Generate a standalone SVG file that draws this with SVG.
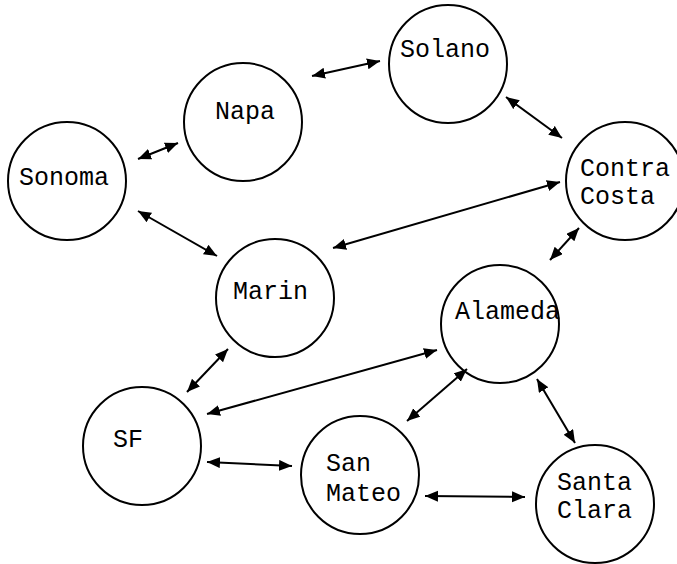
<svg xmlns="http://www.w3.org/2000/svg" width="677" height="564" viewBox="0 0 677 564">
<style>
.n{fill:#fff;stroke:#000;stroke-width:2}
.t{font-family:"Liberation Mono","Courier New",monospace;font-size:25px;fill:#000}
.e{stroke:#000;stroke-width:2;fill:none;marker-start:url(#ah);marker-end:url(#ah)}
</style>
<defs>
<marker id="ah" markerUnits="userSpaceOnUse" markerWidth="14" markerHeight="12" refX="13" refY="5.5" orient="auto-start-reverse" viewBox="0 0 14 12">
<path d="M0,0 L13,5.5 L0,11 z" fill="#000"/>
</marker>
</defs>
<rect width="677" height="564" fill="#fff"/>
<g id="sonoma"><circle class="n" cx="67" cy="181" r="59"/><text class="t" x="19" y="185">Sonoma</text></g>
<g id="napa"><circle class="n" cx="243" cy="122" r="59"/><text class="t" x="215" y="119">Napa</text></g>
<g id="solano"><circle class="n" cx="448" cy="64" r="59"/><text class="t" x="400" y="57">Solano</text></g>
<g id="contra-costa"><circle class="n" cx="625" cy="181" r="59"/><text class="t" x="580" y="176">Contra</text><text class="t" x="580" y="204">Costa</text></g>
<g id="marin"><circle class="n" cx="275" cy="298" r="59"/><text class="t" x="233" y="299">Marin</text></g>
<g id="alameda"><circle class="n" cx="500" cy="324" r="59"/><text class="t" x="455" y="319">Alameda</text></g>
<g id="sf"><circle class="n" cx="142" cy="446" r="59"/><text class="t" x="113" y="447">SF</text></g>
<g id="san-mateo"><circle class="n" cx="360" cy="475" r="59"/><text class="t" x="326" y="471">San</text><text class="t" x="326" y="501">Mateo</text></g>
<g id="santa-clara"><circle class="n" cx="595" cy="504" r="59"/><text class="t" x="557" y="490">Santa</text><text class="t" x="557" y="518">Clara</text></g>
<g id="connectors">
<line class="e" x1="138" y1="159" x2="178" y2="143"/>
<line class="e" x1="138" y1="211" x2="217" y2="256"/>
<line class="e" x1="312" y1="76" x2="380" y2="61"/>
<line class="e" x1="506" y1="97" x2="562" y2="138"/>
<line class="e" x1="333" y1="248" x2="560" y2="182"/>
<line class="e" x1="579" y1="228" x2="550" y2="260"/>
<line class="e" x1="228" y1="349" x2="187" y2="392"/>
<line class="e" x1="207" y1="414" x2="437" y2="350"/>
<line class="e" x1="207" y1="462" x2="292" y2="466"/>
<line class="e" x1="467" y1="369" x2="407" y2="421"/>
<line class="e" x1="537" y1="379" x2="575" y2="443"/>
<line class="e" x1="425" y1="496" x2="525" y2="497"/>
</g>
</svg>
